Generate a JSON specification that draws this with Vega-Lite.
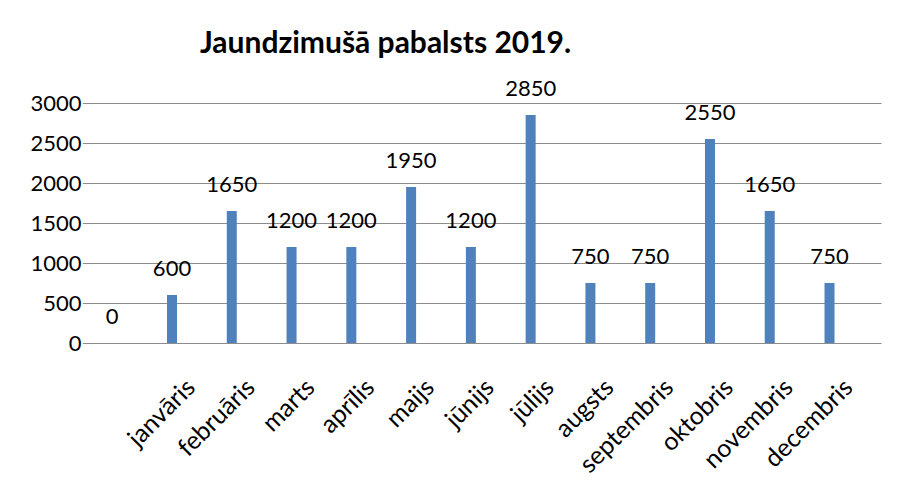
{
  "$schema": "https://vega.github.io/schema/vega-lite/v6.json",
  "autosize": {"type": "none"},
  "padding": {"left": 105, "top": 103, "right": 19, "bottom": 138},
  "width": 776,
  "height": 240,
  "background": "white",
  "title": {
    "text": "Jaundzimušā pabalsts 2019.",
    "anchor": "start",
    "frame": "group",
    "dx": 95,
    "offset": 19,
    "font": "Lato",
    "fontSize": 30,
    "fontWeight": "bold",
    "color": "#000000"
  },
  "data": {
    "values": [
      {"month": "", "value": 0},
      {"month": "janvāris", "value": 600},
      {"month": "februāris", "value": 1650},
      {"month": "marts", "value": 1200},
      {"month": "aprīlis", "value": 1200},
      {"month": "maijs", "value": 1950},
      {"month": "jūnijs", "value": 1200},
      {"month": "jūlijs", "value": 2850},
      {"month": "augsts", "value": 750},
      {"month": "septembris", "value": 750},
      {"month": "oktobris", "value": 2550},
      {"month": "novembris", "value": 1650},
      {"month": "decembris", "value": 750}
    ]
  },
  "encoding": {
    "x": {
      "field": "month",
      "type": "nominal",
      "scale": {
        "domain": ["", "janvāris", "februāris", "marts", "aprīlis", "maijs", "jūnijs", "jūlijs", "augsts", "septembris", "oktobris", "novembris", "decembris"],
        "range": [-22.65, 776],
        "paddingInner": 0,
        "paddingOuter": 0.1807,
        "align": 0
      },
      "axis": {
        "title": null,
        "domain": false,
        "ticks": false,
        "grid": false,
        "labelAngle": -45,
        "labelAlign": "right",
        "labelBaseline": "middle",
        "labelPadding": 40,
        "labelOffset": 19,
        "labelFont": "Lato",
        "labelFontSize": 25,
        "labelColor": "#000000"
      }
    },
    "y": {
      "field": "value",
      "type": "quantitative",
      "scale": {"domain": [0, 3000], "nice": false},
      "axis": {
        "title": null,
        "domain": false,
        "ticks": false,
        "grid": true,
        "gridColor": "#8c8c8c",
        "gridWidth": 1.2,
        "values": [0, 500, 1000, 1500, 2000, 2500, 3000],
        "format": "d",
        "labelPadding": 24,
        "labelFont": "Lato",
        "labelFontSize": 22,
        "labelColor": "#000000"
      }
    }
  },
  "layer": [
    {
      "mark": {"type": "bar", "size": 10, "color": "#4F81BD"}
    },
    {
      "mark": {"type": "text", "baseline": "alphabetic", "dy": -19, "font": "Lato", "fontSize": 22, "color": "#000000"},
      "encoding": {"text": {"field": "value", "type": "quantitative", "format": "d"}}
    }
  ],
  "config": {"view": {"stroke": null}}
}
